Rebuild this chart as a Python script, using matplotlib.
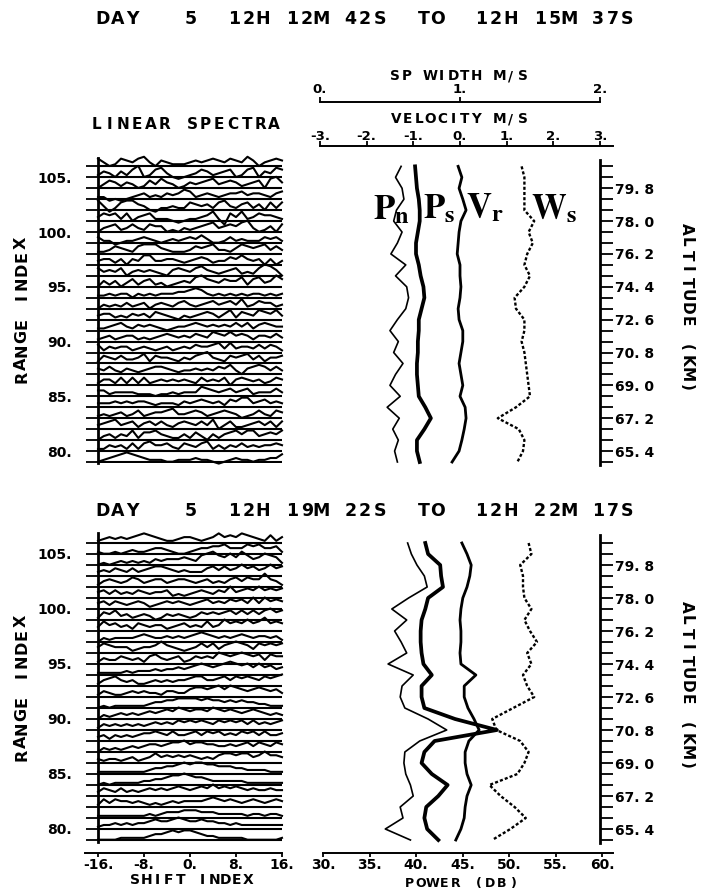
import numpy as np
import matplotlib.pyplot as plt

W, H = 704, 893
plt.rcParams['font.family'] = 'DejaVu Sans'
plt.rcParams['font.weight'] = 'bold'
plt.rcParams['mathtext.fontset'] = 'stix'
fig = plt.figure(figsize=(W / 100, H / 100), dpi=100)

# ---------------- data ----------------
gates = np.arange(106, 78, -1)      # range index, listed top to bottom
shift = np.arange(-16, 17)          # shift index of the spectra
alt_labels = [65.4, 67.2, 69.0, 70.8, 72.6, 74.4, 76.2, 78.0, 79.8]

title_1 = 'DAY   5  12H 12M 42S  TO  12H 15M 37S'
title_2 = 'DAY   5  12H 19M 22S  TO  12H 22M 17S'

# linear spectra, one digit string per gate (106 -> 79), amplitude 0..9
spec_1 = [
    "64236546742 54333454565 46547524565", "35425368236 74212346534 56236725476",
    "24653542364 75423545674 56534562785", "33121234534 35457634543 45564554356",
    "74136775421 33433654536 74356352636", "46563624563 33212334573 06473465543",
    "24563464365 52324345674 56578423526", "53312334543 23434546422 35343335453",
    "33465436777 54333465674 43576567464", "45535254774 45543456534 46575452524",
    "64546245454 32565467543 45634368752", "25352463563 42345478654 65573674586",
    "33434424343 44455676434 34343443434", "24343534524 54356434564 56473465534",
    "45534354536 54324345653 57365476574", "33456435454 32344565454 54646356544",
    "34534553434 56545465476 57565355464", "63545534543 45345465567 47455464653",
    "36546445736 55435467854 36567463556", "54643543456 65434454546 57425676464",
    "35536363634 54545436454 62565453465", "55344443332 33434447654 56456344464",
    "44454545543 44435456545 36577456454", "34345346345 56744565345 65423464365",
    "45674563564 64356546472 46334564636", "24535473667 54335364253 56757745657",
    "33545363675 56436546735 35464545565", "23456765433 32233343321 23433233446",
]
spec_2 = [
    "34545456765 43345543457 56576543635", "32232343345 54322345566 75557675563",
    "23234343435 45556547897 68697568763", "45465464567 76545444675 75686756867",
    "35654576456 64566545645 46757669653", "56464546545 56343456546 58567686767",
    "56465456534 56565456756 57675858676", "36574534542 35454346565 67575757867",
    "47564536545 53456454745 86768679676", "24344445654 45454567654 54565455453",
    "57655534556 86543457574 67876476767", "35446545367 54563465658 76787674766",
    "33333434445 45565678767 89878686756", "35675453345 45455677556 75767657678",
    "35433454544 35544677678 68765676564", "23233333345 56677776766 56565544333",
    "24345454565 67687677687 67656765454", "35454545456 56576767657 67675756567",
    "45354545667 65755675767 56576757556", "24343454566 56778677665 56567576576",
    "43443453457 56565654546 77677568665", "33333333345 56678788776 66554444333",
    "23233333445 56778766544 44443333333", "46546454565 65676567686 76765655655",
    "36465545434 34545555676 56545654565", "33333333343 45556665554 44443443443",
    "34454545567 66787667665 54544444444", "22223333345 56767765443 33332222223",
]

# profiles (gate 106 -> 79): noise power, signal power (dB), velocity, spectral width (m/s)
pn_1 = [38.4, 37.8, 38.5, 38.7, 37.9, 37.6, 38.5, 38.0, 37.3, 38.9, 37.8, 39.0, 39.2, 38.9,
        38.0, 37.2, 38.1, 37.6, 38.6, 37.8, 37.2, 38.3, 36.9, 38.2, 37.5, 38.1, 37.7, 38.0]
ps_1 = [39.9, 40.0, 40.1, 40.3, 40.4, 40.4, 40.2, 40.0, 40.0, 40.3, 40.5, 40.8, 40.9, 40.6,
        40.3, 40.3, 40.2, 40.2, 40.1, 40.1, 40.2, 40.3, 41.0, 41.6, 40.9, 40.1, 40.1, 40.4]
vr_1 = [-0.04, 0.04, -0.02, 0.06, 0.13, 0.02, -0.02, -0.04, -0.06, 0.0, 0.0, 0.02, 0.0, -0.04,
        -0.02, 0.06, 0.06, 0.02, -0.02, 0.02, 0.06, 0.0, 0.11, 0.13, 0.09, 0.04, -0.02, -0.17]
ws_1 = [1.44, 1.46, 1.46, 1.46, 1.46, 1.53, 1.49, 1.52, 1.48, 1.46, 1.50, 1.46, 1.39, 1.40,
        1.46, 1.46, 1.44, 1.46, 1.47, 1.48, 1.49, 1.50, 1.40, 1.27, 1.42, 1.46, 1.45, 1.41]

pn_2 = [39.1, 39.5, 40.1, 40.9, 41.2, 39.2, 37.4, 39.0, 37.7, 38.4, 39.0, 37.0, 39.7, 38.5,
        38.3, 38.8, 41.3, 43.3, 40.4, 38.8, 38.7, 38.9, 39.4, 39.7, 38.3, 38.6, 36.7, 39.4]
ps_2 = [41.0, 41.3, 42.6, 42.7, 42.9, 41.3, 41.0, 40.6, 40.5, 40.5, 40.6, 40.8, 41.7, 40.6,
        40.6, 40.9, 44.2, 48.7, 42.0, 40.9, 40.6, 41.7, 43.4, 42.4, 41.1, 40.9, 41.2, 42.4]
vr_2 = [0.04, 0.15, 0.24, 0.21, 0.15, 0.06, 0.02, 0.0, 0.02, 0.02, 0.0, 0.02, 0.34, 0.09,
        0.09, 0.17, 0.30, 0.41, 0.19, 0.11, 0.11, 0.15, 0.24, 0.15, 0.11, 0.09, 0.02, -0.09]
ws_2 = [1.49, 1.51, 1.43, 1.45, 1.45, 1.46, 1.51, 1.46, 1.50, 1.55, 1.48, 1.51, 1.45, 1.48,
        1.53, 1.38, 1.23, 1.26, 1.43, 1.49, 1.46, 1.41, 1.21, 1.29, 1.39, 1.47, 1.36, 1.23]


def fbox(x0, y0, x1, y1):
    # pixel box (top-left origin) -> figure fraction rect
    return [x0 / W, 1 - y1 / H, (x1 - x0) / W, (y1 - y0) / H]


def ctext(x, y, s, pitch, size, rot=0):
    # fixed pitch "plotter" lettering, one glyph per cell
    c, sn = np.cos(np.radians(rot)), np.sin(np.radians(rot))
    for i, ch in enumerate(s):
        if ch != ' ':
            fig.text((x + i * pitch * c) / W, 1 - (y - i * pitch * sn) / H, ch,
                     fontsize=size, rotation=rot, rotation_mode='anchor',
                     ha='center', va='center_baseline')


def bare(ax):
    ax.patch.set_visible(False)
    for sp in ax.spines.values():
        sp.set_visible(False)
        sp.set_linewidth(1.4)
    ax.tick_params(which='both', left=False, right=False, top=False, bottom=False,
                   labelleft=False, labelright=False, labeltop=False, labelbottom=False)


def panel(y79, pitch, spec_y, prof_y, spectra, pn, ps, vr, ws, top):
    r_at = lambda y: 79 + (y79 - y) / pitch

    # ---- linear spectra ----
    ax = fig.add_axes(fbox(98, spec_y[0], 282, spec_y[1]))
    bare(ax)
    ax.hlines(gates, -16, 16, color='k', lw=1.5)
    for r, s in zip(gates, spectra):
        d = np.array([int(ch) for ch in s.replace(' ', '')])
        ax.plot(shift, r + 0.45 + 0.17 * (d - 4.5), color='k', lw=1.5, clip_on=False)
    ax.spines['left'].set_visible(True)
    ax.spines['left'].set_linewidth(2)
    ax.set_yticks(gates)
    ax.set_yticklabels([f'{r}.' if r % 5 == 0 else '' for r in gates])
    ax.tick_params(axis='y', left=True, labelleft=True, length=8.6, width=1.3,
                   pad=10, labelsize=10)
    if not top:
        sp = ax.spines['bottom']
        sp.set_visible(True)
        sp.set_position(('outward', 7.9))
        sp.set_bounds(-18.3, 16)
        ax.set_xticks([-16, -8, 0, 8, 16])
        ax.set_xticklabels(['-16.', '-8.', '0.', '8.', '16.'])
        ax.tick_params(axis='x', bottom=True, labelbottom=True, length=3, width=1.3,
                       pad=0.5, labelsize=10)
    ax.set_xlim(-16, 16)
    ax.set_ylim(r_at(spec_y[1]), r_at(spec_y[0]))

    # ---- profiles ----
    axp = fig.add_axes(fbox(323, prof_y[0], 602, prof_y[1]))
    axv = fig.add_axes(fbox(320, prof_y[0], 600, prof_y[1]))
    axw = fig.add_axes(fbox(320, prof_y[0], 600, prof_y[1]))
    for a in (axp, axv, axw):
        bare(a)
    axp.plot(pn, gates, color='k', lw=1.2)
    axp.plot(ps, gates, color='k', lw=2.7)
    axv.plot(vr, gates, color='k', lw=2.0)
    axw.plot(ws, gates, color='k', lw=1.7, ls=(0, (1.3, 0.9)))

    # altitude scale on the right
    alt = 65.4 + 0.6 * (gates - 80)
    axw.spines['right'].set_visible(True)
    axw.spines['right'].set_linewidth(2)
    axw.set_yticks(gates)
    axw.set_yticklabels([f'{a:.1f}'.replace('.', '. ')
                         if np.isclose(alt_labels, a).any() else '' for a in alt])
    axw.tick_params(axis='y', right=True, labelright=True, length=9.4, width=1.3,
                    pad=1.5, labelsize=10)

    if top:
        sp = axw.spines['top']
        sp.set_visible(True)
        sp.set_position(('outward', 41.8))
        sp.set_bounds(0, 2)
        axw.set_xticks([0, 1, 2])
        axw.set_xticklabels(['0.', '1.', '2.'])
        axw.tick_params(axis='x', top=True, labeltop=True, length=3.5, width=1.3,
                        pad=1, labelsize=9.5)
        sp = axv.spines['top']
        sp.set_visible(True)
        sp.set_position(('outward', 10.1))
        sp.set_bounds(-3, 3.28)
        axv.set_xticks(range(-3, 4))
        axv.set_xticklabels([f'{v}.' for v in range(-3, 4)])
        axv.tick_params(axis='x', top=True, labeltop=True, length=3.5, width=1.3,
                        pad=-1, labelsize=9.5)
    else:
        sp = axp.spines['bottom']
        sp.set_visible(True)
        sp.set_position(('outward', 7.2))
        sp.set_bounds(30, 61.2)
        axp.set_xticks(range(30, 61, 5))
        axp.set_xticklabels([f'{p}.' for p in range(30, 61, 5)])
        axp.tick_params(axis='x', bottom=True, labelbottom=True, length=3, width=1.3,
                        pad=0.5, labelsize=10)

    axp.set_xlim(30, 60)
    axv.set_xlim(-3, 3)
    axw.set_xlim(0, 2)
    for a in (axp, axv, axw):
        a.set_ylim(r_at(prof_y[1]), r_at(prof_y[0]))


panel(462, 10.95, (158, 463), (160, 465), spec_1, pn_1, ps_1, vr_1, ws_1, top=True)
panel(840, 11.0, (533, 842), (535, 843), spec_2, pn_2, ps_2, vr_2, ws_2, top=False)

# ---- lettering ----
ctext(103, 17, title_1, 14.56, 12.5)
ctext(103, 509, title_2, 14.56, 12.5)
ctext(96, 123, 'LINEAR SPECTRA', 13.7, 11)
ctext(395, 75, 'SP WIDTH M/S', 11.6, 9.8)
ctext(396, 118, 'VELOCITY M/S', 11.5, 9.8)
ctext(20, 377, 'RANGE INDEX', 13.4, 11.5, rot=90)
ctext(20, 755, 'RANGE INDEX', 13.4, 11.5, rot=90)
ctext(688, 229, 'ALTITUDE (KM)', 13.2, 11, rot=-90)
ctext(688, 607, 'ALTITUDE (KM)', 13.2, 11, rot=-90)
ctext(135, 879, 'SHIFT INDEX', 11.3, 10)
ctext(409, 882, 'POWER (DB)', 11.6, 9)

# curve names (top panel)
for name, x, yb in [(r'$\mathbf{P}_\mathbf{n}$', 373, 219), (r'$\mathbf{P}_\mathbf{s}$', 423, 218),
                    (r'$\mathbf{V}_\mathbf{r}$', 466, 217), (r'$\mathbf{W}_\mathbf{s}$', 531, 218)]:
    fig.text(x / W, 1 - yb / H, name, fontsize=25, ha='left', va='baseline')

fig.savefig('out.png', dpi=100)
